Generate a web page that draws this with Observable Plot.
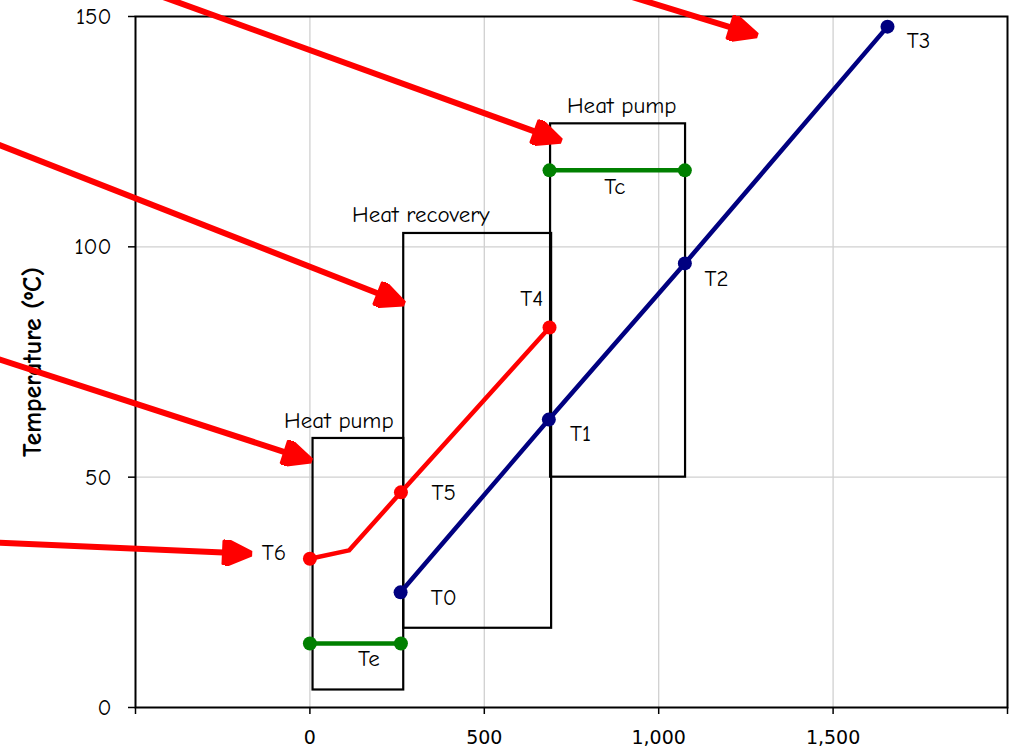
<!DOCTYPE html>
<html><head><meta charset="utf-8">
<script src="https://cdn.jsdelivr.net/npm/d3@7"></script>
<script src="https://cdn.jsdelivr.net/npm/@observablehq/plot@0.6"></script>
<style>html,body{margin:0;padding:0;background:#fff;overflow:hidden}</style>
</head><body><div id="chart"></div>
<script>
// ---- data ----
const xTicks = [-500, 0, 500, 1000, 1500, 2000];
const xTickLabels = ["", "0", "500", "1,000", "1,500", ""];
const yTicks = [0, 50, 100, 150];
const yTickLabels = ["0", "50", "100", "150"];
const gridXValues = [0, 500, 1000, 1500];
const gridYValues = [50, 100];

// process stream (blue): T0..T3
const blueX = [260, 685, 1075, 1656];
const blueY = [25, 62.5, 96.4, 147.8];
// waste heat stream (red): T6, kink, T5, T4
const redX = [0, 112, 261, 687];
const redY = [32.3, 34.1, 46.7, 82.5];
const redDotIdx = [0, 2, 3];
// evaporator / condenser (green)
const teX = [0, 261];
const teY = [13.9, 13.9];
const tcX = [687, 1075];
const tcY = [116.6, 116.6];

// boxes
const boxX1 = [9, 269, 690];
const boxX2 = [269, 693, 1077];
const boxY1 = [3.8, 17.2, 50];
const boxY2 = [58.4, 102.9, 126.7];

// annotations
const labelText = ["Heat pump", "Heat recovery", "Heat pump", "T6", "T5", "T4", "T0", "T1", "T2", "T3", "Te", "Tc"];
const labelX = [83, 318, 894, -103, 384, 636, 384, 776, 1166, 1745, 169, 874];
const labelY = [62.3, 107, 130.7, 33.6, 46.7, 88.8, 23.9, 59.5, 93.1, 144.8, 10.6, 113.1];

// red annotation arrows (start -> tip)
const arrowX1 = [-456, 891, -900, -900, -900];
const arrowY1 = [155.2, 155, 122.4, 75.8, 35.8];
const arrowX2 = [719, 1281, 269, 3, -169];
const arrowY2 = [123, 145.9, 87.7, 53.6, 33.4];

const yLabel = "Temperature (ºC)";

// ---- build tables ----
const blue = blueX.map((x, i) => ({x, y: blueY[i]}));
const red = redX.map((x, i) => ({x, y: redY[i]}));
const redDots = redDotIdx.map(i => red[i]);
const te = teX.map((x, i) => ({x, y: teY[i]}));
const tc = tcX.map((x, i) => ({x, y: tcY[i]}));
const boxes = boxX1.map((x1, i) => ({x1, x2: boxX2[i], y1: boxY1[i], y2: boxY2[i]}));
const labels = labelText.map((t, i) => ({t, x: labelX[i], y: labelY[i]}));
const arrows = arrowX1.map((x1, i) => ({x1, y1: arrowY1[i], x2: arrowX2[i], y2: arrowY2[i]}));
const xLab = new Map(xTicks.map((t, i) => [t, xTickLabels[i]]));
const yLab = new Map(yTicks.map((t, i) => [t, yTickLabels[i]]));

const COMIC = '"Comic Sans MS","Comic Neue","DejaVu Sans",sans-serif';
const HEAD = 22;

// shaft stops short of the tip; the filled head reaches the tip
function shortCurve(context) {
  let pts = [];
  return {
    areaStart() {}, areaEnd() {},
    lineStart() { pts = []; },
    point(x, y) { pts.push([x, y]); },
    lineEnd() {
      const [a, b] = pts;
      const dx = b[0] - a[0], dy = b[1] - a[1], L = Math.hypot(dx, dy);
      const k = (L - HEAD) / L;
      context.moveTo(a[0], a[1]);
      context.lineTo(a[0] + dx * k, a[1] + dy * k);
    }
  };
}
function arrowHead(color) {
  const m = d3.create("svg:marker")
    .attr("viewBox", "-8 -13 34 26")
    .attr("markerUnits", "userSpaceOnUse")
    .attr("markerWidth", 34).attr("markerHeight", 26)
    .attr("refX", 0).attr("refY", 0)
    .attr("orient", "auto");
  m.append("path").attr("d", `M${HEAD},0L-4,-12L-4,12Z`).attr("fill", color);
  return m.node();
}

const chart = Plot.plot({
  width: 1010,
  height: 756,
  marginLeft: 135,
  marginRight: 3,
  marginTop: 16,
  marginBottom: 49,
  style: {fontFamily: COMIC, background: "#fff"},
  x: {domain: [-500, 2000]},
  y: {domain: [0, 150]},
  marks: [
    Plot.gridX(gridXValues, {stroke: "#d0d0d0", strokeOpacity: 1, strokeWidth: 1.3}),
    Plot.gridY(gridYValues, {stroke: "#d0d0d0", strokeOpacity: 1, strokeWidth: 1.3}),
    Plot.axisX(xTicks, {tickSize: 7, tickPadding: 16, strokeWidth: 1.5, fontSize: 19,
      fontFamily: '"DejaVu Sans",sans-serif', tickFormat: d => xLab.get(d), label: null}),
    Plot.axisY(yTicks, {tickSize: 7, tickPadding: 17, strokeWidth: 1.5, fontSize: 23,
      tickFormat: d => yLab.get(d), label: null}),
    Plot.frame({stroke: "#000", strokeWidth: 2}),
    Plot.rect(boxes, {x1: "x1", x2: "x2", y1: "y1", y2: "y2", fill: "none", stroke: "#000", strokeWidth: 2.2}),
    Plot.line(te, {x: "x", y: "y", stroke: "#008000", strokeWidth: 4.5}),
    Plot.line(tc, {x: "x", y: "y", stroke: "#008000", strokeWidth: 4.5}),
    Plot.line(red, {x: "x", y: "y", stroke: "#ff0000", strokeWidth: 4.5}),
    Plot.line(blue, {x: "x", y: "y", stroke: "#000080", strokeWidth: 4.5}),
    Plot.dot(te.concat(tc), {x: "x", y: "y", r: 7, fill: "#008000"}),
    Plot.dot(redDots, {x: "x", y: "y", r: 7, fill: "#ff0000"}),
    Plot.dot(blue, {x: "x", y: "y", r: 7, fill: "#000080"}),
    Plot.text(labels, {x: "x", y: "y", text: "t", fontSize: 23, fill: "#000", textAnchor: "middle", lineAnchor: "middle"}),
    Plot.text([yLabel], {frameAnchor: "left", textAnchor: "middle", lineAnchor: "middle", rotate: -90, dx: -103, fontSize: 26, fontWeight: "bold", fill: "#000"}),
    Plot.link(arrows, {x1: "x1", y1: "y1", x2: "x2", y2: "y2", stroke: "#ff0000", strokeWidth: 6,
      strokeLinecap: "butt", curve: shortCurve, markerEnd: arrowHead})
  ]
});
document.getElementById("chart").appendChild(chart);
</script>
</body></html>
